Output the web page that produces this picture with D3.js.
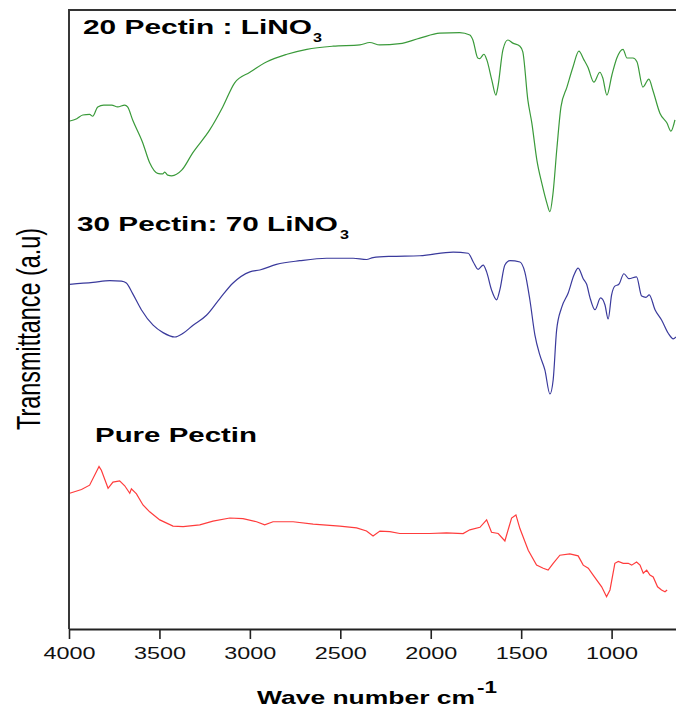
<!DOCTYPE html>
<html>
<head>
<meta charset="utf-8">
<script src="https://cdn.jsdelivr.net/npm/d3@7"></script>
<style>
  body { margin: 0; background: #fff; }
  svg { display: block; font-family: "Liberation Sans", Arial, sans-serif; }
</style>
</head>
<body>
<svg id="chart" width="676" height="711"></svg>
<script>
// wave numbers (cm-1) and transmittance (a.u., curves stacked with offsets)
var greenWave = [4000, 3957, 3924, 3886, 3869, 3841, 3808, 3764, 3731, 3692, 3676, 3648, 3592, 3554, 3510, 3482, 3471, 3454, 3432, 3377, 3316, 3222, 3150, 3084, 3000, 2906, 2795, 2685, 2541, 2392, 2337, 2282, 2171, 2060, 1950, 1840, 1784, 1767, 1740, 1729, 1706, 1690, 1662, 1640, 1629, 1601, 1574, 1546, 1507, 1491, 1463, 1441, 1413, 1386, 1358, 1341, 1325, 1302, 1280, 1247, 1214, 1181, 1153, 1131, 1098, 1065, 1049, 1026, 998, 971, 937, 915, 882, 860, 827, 794, 772, 733, 694, 672, 650];
var greenT = [81.9, 82.3, 82.9, 83.0, 82.7, 84.2, 84.5, 84.5, 84.2, 84.5, 84.2, 82.1, 78.4, 75.2, 73.5, 73.4, 73.7, 73.2, 73.1, 74.0, 76.8, 80.5, 84.2, 88.1, 89.8, 91.5, 92.7, 93.5, 94.0, 94.2, 94.6, 94.2, 94.4, 95.3, 96.1, 96.2, 95.8, 95.0, 92.1, 92.0, 92.7, 91.8, 88.5, 86.1, 87.4, 93.4, 95.0, 94.5, 94.0, 93.1, 85.3, 81.6, 75.6, 71.9, 68.7, 67.3, 70.0, 77.7, 84.2, 87.4, 90.6, 93.2, 91.8, 90.6, 88.2, 89.8, 88.9, 86.1, 89.4, 92.1, 93.5, 92.1, 92.1, 91.5, 87.4, 88.7, 86.9, 83.2, 81.6, 80.3, 82.1];

var blueWave = [3996, 3867, 3775, 3710, 3683, 3648, 3600, 3535, 3480, 3415, 3369, 3314, 3240, 3166, 3093, 3000, 2945, 2853, 2724, 2576, 2429, 2355, 2319, 2226, 2060, 1876, 1793, 1765, 1738, 1710, 1691, 1664, 1636, 1618, 1590, 1562, 1507, 1480, 1452, 1424, 1397, 1369, 1341, 1323, 1304, 1277, 1240, 1208, 1185, 1157, 1138, 1120, 1092, 1061, 1037, 1019, 1000, 982, 960, 932, 904, 862, 834, 810, 792, 760, 723, 687, 659, 644];
var blueT = [55.6, 55.9, 56.2, 56.1, 55.8, 54.1, 51.5, 49.0, 47.8, 47.1, 47.7, 49.0, 50.6, 53.3, 55.8, 57.6, 57.9, 58.8, 59.4, 59.8, 59.8, 59.6, 59.9, 60.1, 60.2, 60.8, 60.6, 59.2, 58.0, 58.7, 57.6, 54.7, 53.1, 54.7, 58.7, 59.4, 59.2, 57.6, 53.1, 47.4, 44.2, 41.8, 37.9, 40.2, 48.2, 51.8, 54.2, 57.1, 58.2, 56.5, 55.6, 53.5, 51.5, 53.4, 52.3, 50.0, 53.9, 55.3, 55.6, 57.3, 56.5, 56.8, 53.7, 53.5, 53.9, 51.5, 49.8, 47.7, 46.8, 47.1];

var redWave = [3996, 3931, 3886, 3834, 3821, 3784, 3757, 3720, 3692, 3664, 3655, 3627, 3591, 3554, 3498, 3425, 3369, 3277, 3204, 3111, 3038, 2963, 2918, 2872, 2761, 2650, 2503, 2410, 2355, 2319, 2281, 2226, 2171, 2005, 1913, 1821, 1784, 1728, 1691, 1664, 1627, 1590, 1553, 1529, 1507, 1461, 1415, 1378, 1351, 1323, 1286, 1231, 1185, 1157, 1129, 1102, 1055, 1028, 1009, 982, 963, 936, 908, 889, 862, 843, 825, 806, 788, 770, 746, 724, 705, 693];
var redT = [21.9, 22.5, 23.2, 26.2, 25.6, 22.7, 23.7, 23.9, 23.1, 21.9, 22.6, 21.8, 20.0, 18.9, 17.6, 16.6, 16.5, 16.8, 17.4, 17.9, 17.8, 17.3, 16.8, 17.3, 17.3, 16.9, 16.6, 16.3, 15.8, 15.0, 15.8, 15.7, 15.4, 15.4, 15.5, 15.4, 16.0, 16.4, 17.6, 15.6, 15.4, 14.2, 17.9, 18.4, 16.2, 12.7, 10.3, 9.8, 9.5, 10.6, 11.9, 12.1, 11.8, 10.3, 9.8, 8.7, 6.8, 5.2, 6.3, 10.6, 10.9, 10.6, 10.6, 10.3, 10.8, 10.3, 9.0, 9.5, 8.7, 8.4, 6.8, 6.3, 6.0, 6.3];

var xTicks = [4000, 3500, 3000, 2500, 2000, 1500, 1000];

var svg = d3.select("#chart");
var x = d3.scaleLinear().domain([4000, 644]).range([69, 676]);
var y = d3.scaleLinear().domain([0, 100]).range([629, 9]);

var series = [
  { wave: greenWave, t: greenT, color: "#3a9a3a", curve: d3.curveMonotoneX },
  { wave: blueWave, t: blueT, color: "#3a3a9c", curve: d3.curveMonotoneX },
  { wave: redWave, t: redT, color: "#ff3c3c", curve: d3.curveLinear }
];

series.forEach(function (s) {
  var pts = s.wave.map(function (w, i) { return [w, s.t[i]]; });
  var line = d3.line()
    .x(function (d) { return x(d[0]); })
    .y(function (d) { return y(d[1]); })
    .curve(s.curve);
  svg.append("path").datum(pts)
    .attr("d", line)
    .attr("fill", "none")
    .attr("stroke", s.color)
    .attr("stroke-width", 1.2);
});

// frame: left and top
svg.append("line").attr("x1", 69).attr("x2", 69).attr("y1", 9).attr("y2", 629)
  .attr("stroke", "#222").attr("stroke-width", 1.8);
svg.append("line").attr("x1", 69).attr("x2", 676).attr("y1", 10).attr("y2", 10)
  .attr("stroke", "#333").attr("stroke-width", 1.8);

// bottom axis
var gx = svg.append("g").attr("transform", "translate(0,629)")
  .call(d3.axisBottom(x).tickValues(xTicks).tickSize(10).tickSizeOuter(0).tickFormat(d3.format("d")));
gx.select(".domain").attr("stroke", "#222").attr("stroke-width", 1.8);
gx.selectAll(".tick line").attr("stroke", "#222").attr("stroke-width", 1.6);
gx.selectAll(".tick text")
  .attr("y", 30).attr("dy", 0)
  .attr("fill", "#111")
  .style("font-size", "17px")
  .attr("textLength", 52).attr("lengthAdjust", "spacingAndGlyphs");

// axis titles
svg.append("text").attr("x", 257).attr("y", 704)
  .attr("font-weight", "bold").attr("font-size", 19)
  .attr("textLength", 218).attr("lengthAdjust", "spacingAndGlyphs")
  .text("Wave number cm");
svg.append("text").attr("x", 477).attr("y", 693)
  .attr("font-weight", "bold").attr("font-size", 17)
  .attr("textLength", 20).attr("lengthAdjust", "spacingAndGlyphs")
  .text("-1");

svg.append("text")
  .attr("transform", "translate(40,329) rotate(-90)")
  .attr("text-anchor", "middle")
  .attr("font-size", 33)
  .attr("textLength", 202).attr("lengthAdjust", "spacingAndGlyphs")
  .text("Transmittance (a.u)");

// curve labels
var labels = [
  { main: "20 Pectin : LiNO", sub: "3", x: 83, y: 34, len: 229, subX: 313, subY: 42 },
  { main: "30 Pectin: 70 LiNO", sub: "3", x: 77, y: 231, len: 261, subX: 340, subY: 239 },
  { main: "Pure Pectin", sub: null, x: 95, y: 442, len: 162 }
];
labels.forEach(function (l) {
  svg.append("text").attr("x", l.x).attr("y", l.y)
    .attr("font-weight", "bold").attr("font-size", 19.5)
    .attr("textLength", l.len).attr("lengthAdjust", "spacingAndGlyphs")
    .text(l.main);
  if (l.sub) {
    svg.append("text").attr("x", l.subX).attr("y", l.subY)
      .attr("font-weight", "bold").attr("font-size", 12)
      .attr("textLength", 9).attr("lengthAdjust", "spacingAndGlyphs")
      .text(l.sub);
  }
});
</script>
</body>
</html>
